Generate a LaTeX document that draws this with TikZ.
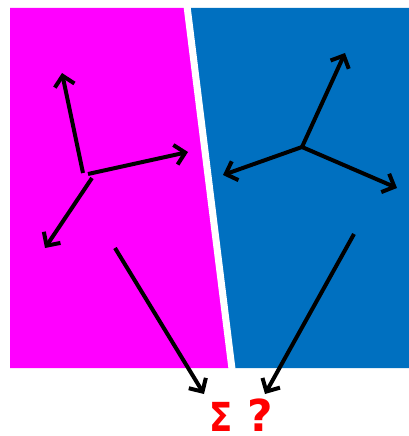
\documentclass[tikz,border=0pt]{standalone}
\usepackage{fontspec}
\setmainfont{DejaVu Sans}
\usetikzlibrary{arrows.meta}
\definecolor{mag}{RGB}{255,0,255}
\definecolor{blu}{RGB}{0,112,192}
\definecolor{sred}{RGB}{255,0,0}
\tikzset{
  vec/.style={line width=4pt,-{Straight Barb[length=10pt,width=20pt,line width=4pt]}},
  sym/.style={text=sred,font=\bfseries\fontsize{40}{40}\selectfont,inner sep=0pt}
}
\begin{document}
\begin{tikzpicture}[x=1pt,y=-1pt]
\useasboundingbox (0,0) rectangle (409,436);
\fill[mag] (10,8) -- (187,8) -- (232,368) -- (10,368) -- cycle;
\fill[blu] (187,8) -- (409,8) -- (409,368) -- (232,368) -- cycle;
\draw[white,line width=7pt] (187,6) -- (232,369);
% left frame
\coordinate (l1) at (83,173);
\coordinate (l2) at (88,174);
\coordinate (l3) at (92,178);
\coordinate (lu) at (62,73);
\coordinate (lr) at (188,152);
\coordinate (ld) at (45,248);
\draw[vec] (l1) -- (lu);
\draw[vec] (l2) -- (lr);
\draw[vec] (l3) -- (ld);
% right frame
\coordinate (rc) at (302,147);
\coordinate (ru) at (345,53);
\coordinate (rl) at (223,175);
\coordinate (rr) at (397,188);
\draw[vec] (rc) -- (ru);
\draw[vec] (rc) -- (rl);
\draw[vec] (rc) -- (rr);
% symbols
\node[sym,xscale=0.85] (sig) at (221,417) {Σ};
\node[sym,scale=1.1] (q) at (260,415) {?};
\coordinate (ls) at (115,248);
\coordinate (rs) at (354,234);
\draw[vec] (ls) -- (204,394);
\draw[vec] (rs) -- (265,394);
\end{tikzpicture}
\end{document}
